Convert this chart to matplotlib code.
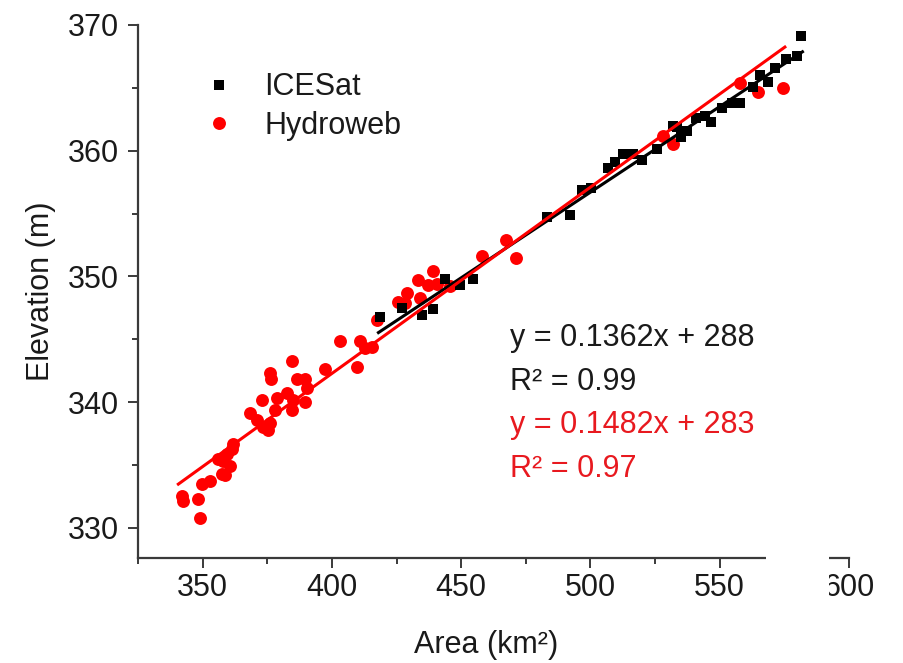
import matplotlib
matplotlib.use("Agg")
import matplotlib.pyplot as plt
from matplotlib.patches import Rectangle
from matplotlib.ticker import MultipleLocator

plt.rcParams['font.family'] = ['Liberation Sans', 'DejaVu Sans']

# ---- data ----
icesat_area = [418.6, 427.0, 434.7, 439.2, 443.7, 449.5, 454.7, 483.0, 492.1, 496.6,
               500.4, 506.9, 509.5, 512.7, 516.5, 519.8, 525.6, 532.0, 533.3, 535.2,
               537.2, 541.0, 544.3, 546.8, 550.7, 554.6, 557.8, 562.9, 565.5, 568.7,
               571.3, 575.8, 579.7, 581.6]
icesat_elev = [346.8, 347.5, 346.9, 347.4, 349.8, 349.3, 349.8, 354.7, 354.9, 356.9,
               357.0, 358.6, 359.1, 359.7, 359.7, 359.3, 360.1, 362.0, 361.9, 361.1,
               361.6, 362.6, 362.8, 362.3, 363.4, 363.8, 363.8, 365.1, 366.0, 365.5,
               366.6, 367.3, 367.5, 369.1]

hydroweb_area = [341.9, 342.5, 348.3, 349.0, 349.6, 352.8, 357.4, 358.6, 356.0, 359.3,
                 361.2, 361.9, 360.6, 358.0, 368.3, 370.9, 373.5, 375.4, 376.0, 372.8,
                 378.0, 378.6, 376.0, 376.3, 382.5, 384.4, 385.1, 384.4, 386.4, 389.6,
                 390.2, 389.6, 397.3, 403.1, 409.6, 410.8, 412.8, 415.4, 417.3, 425.7,
                 428.9, 428.2, 433.4, 434.0, 437.3, 439.2, 440.5, 445.7, 457.9, 467.5,
                 471.2, 528.1, 532.0, 557.8, 564.9, 574.5]
hydroweb_elev = [332.5, 332.1, 332.3, 330.8, 333.5, 333.7, 334.3, 334.2, 335.5, 335.9,
                 336.3, 336.7, 334.9, 335.3, 339.1, 338.6, 338.0, 337.8, 338.3, 340.2,
                 339.4, 340.3, 342.3, 341.8, 340.7, 339.4, 340.2, 343.3, 341.8, 340.0,
                 341.1, 341.8, 342.6, 344.9, 342.8, 344.9, 344.3, 344.4, 346.5, 348.0,
                 348.7, 347.9, 349.7, 348.3, 349.3, 350.4, 349.4, 349.2, 351.6, 352.9,
                 351.5, 361.2, 360.5, 365.4, 364.7, 365.0]

# linear fits (slope, intercept) and the x-range each fit line spans
icesat_fit = (0.1362, 288.6)
icesat_fit_range = [418.0, 582.0]
hydroweb_fit = (0.1482, 283.0)
hydroweb_fit_range = [340.6, 575.2]

icesat_eq = ["y = 0.1362x + 288", "R\u00b2 = 0.99"]
hydroweb_eq = ["y = 0.1482x + 283", "R\u00b2 = 0.97"]

xticks = [350, 400, 450, 500, 550, 600]
yticks = [330, 340, 350, 360, 370]

# ---- figure ----
W, H = 904, 663
fig = plt.figure(figsize=(W / 100, H / 100), dpi=100)
ax = fig.add_axes([138 / W, (H - 558) / H, (849 - 138) / W, (558 - 25) / H])

red = '#ff0000'
ax.plot(hydroweb_area, hydroweb_elev, 'o', color=red, markersize=9.3,
        markeredgewidth=0, label='Hydroweb', zorder=2)
ax.plot(icesat_area, icesat_elev, 's', color='black', markersize=7.5,
        markeredgewidth=0, label='ICESat', zorder=3)

bx = icesat_fit_range
ax.plot(bx, [icesat_fit[0] * v + icesat_fit[1] for v in bx], color='black', lw=2.2, zorder=4)
rx = hydroweb_fit_range
ax.plot(rx, [hydroweb_fit[0] * v + hydroweb_fit[1] for v in rx], color=red, lw=2.2, zorder=5)

ax.set_xlim(325, 600)
ax.set_ylim(327.6, 370)
ax.set_xticks(xticks)
ax.set_yticks(yticks)
ax.xaxis.set_minor_locator(MultipleLocator(25))
ax.yaxis.set_minor_locator(MultipleLocator(5))

spine_col = '#3a3a3a'
for s in ['top', 'right']:
    ax.spines[s].set_visible(False)
for s in ['left', 'bottom']:
    ax.spines[s].set_color(spine_col)
    ax.spines[s].set_linewidth(1.6)

ax.tick_params(axis='both', which='major', direction='out', length=7, width=1.4,
               color=spine_col, labelsize=22, labelcolor='#1a1a1a')
ax.tick_params(axis='both', which='minor', direction='out', length=4.5, width=1.4,
               color=spine_col)
ax.tick_params(axis='x', which='major', pad=4)
ax.tick_params(axis='y', which='major', pad=7)

ax.set_xlabel('Area (km\u00b2)', fontsize=22, color='#1a1a1a')
ax.xaxis.set_label_coords(0.49, -0.135)
ax.set_ylabel('Elevation (m)', fontsize=22, color='#1a1a1a')
ax.yaxis.set_label_coords(-0.115, 0.5)

handles, labels = ax.get_legend_handles_labels()
order = [labels.index('ICESat'), labels.index('Hydroweb')]
leg = ax.legend([handles[i] for i in order], [labels[i] for i in order],
                loc='upper left', bbox_to_anchor=(0.092, 0.911), frameon=False,
                fontsize=22, handlelength=1.0, handletextpad=1.0, borderpad=0,
                borderaxespad=0, labelspacing=0.28)
for t in leg.get_texts():
    t.set_color('#1a1a1a')

ys = [0.398, 0.315]
for txt, y in zip(icesat_eq, ys):
    ax.text(0.523, y, txt, transform=ax.transAxes, fontsize=22, color='#1a1a1a',
            va='baseline', ha='left')
ys = [0.234, 0.152]
for txt, y in zip(hydroweb_eq, ys):
    ax.text(0.523, y, txt, transform=ax.transAxes, fontsize=22, color='#e8191f',
            va='baseline', ha='left')

# white patch that hides part of the axis (as in the reference image)
fig.patches.append(Rectangle((766 / W, (H - 615) / H), 63 / W, 70 / H,
                             transform=fig.transFigure, facecolor='white',
                             edgecolor='none', zorder=10))

fig.savefig('out.png', dpi=100)
